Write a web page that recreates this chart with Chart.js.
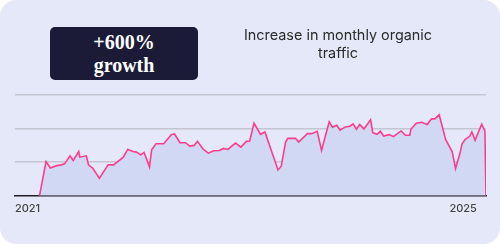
<!DOCTYPE html>
<html>
<head>
<meta charset="utf-8">
<script src="https://cdn.jsdelivr.net/npm/chart.js@4"></script>
<style>
  html, body { margin: 0; padding: 0; background: #fff; }
  .card {
    position: relative;
    width: 500px;
    height: 244px;
    background: #e4e8f8;
    border-radius: 16px;
    overflow: hidden;
  }
  .card canvas { position: absolute; left: 0; top: 0; }
  .badge {
    position: absolute;
    left: 50px;
    top: 27px;
    width: 148px;
    height: 53px;
    background: #1c1b37;
    border-radius: 5px;
    color: #fff;
    font: bold 20px "Liberation Serif", serif;
    line-height: 23px;
    text-align: center;
    display: flex;
    align-items: center;
    justify-content: center;
  }
  .title {
    position: absolute;
    left: 228px;
    top: 26px;
    width: 220px;
    text-align: center;
    font: 14.4px Inter, sans-serif;
    line-height: 18px;
    color: #2b2b2b;
  }
</style>
</head>
<body>
<div class="card">
  <canvas id="trafficChart" width="500" height="244"></canvas>
  <div class="badge"><div>+600%<br>growth</div></div>
  <div class="title">Increase in monthly organic<br>traffic</div>
</div>
<script>
// x positions in decimal years, y = organic traffic (relative units)
const years = [2021.11, 2021.17, 2021.21, 2021.26, 2021.31, 2021.34, 2021.39, 2021.42, 2021.47, 2021.48,
  2021.54, 2021.56, 2021.60, 2021.66, 2021.74, 2021.79, 2021.88, 2021.92, 2021.97, 2022.00,
  2022.04, 2022.07, 2022.12, 2022.14, 2022.18, 2022.25, 2022.32, 2022.35, 2022.40, 2022.45,
  2022.49, 2022.53, 2022.56, 2022.61, 2022.66, 2022.71, 2022.76, 2022.80, 2022.84, 2022.91,
  2022.96, 2023.01, 2023.04, 2023.08, 2023.14, 2023.18, 2023.30, 2023.33, 2023.37, 2023.39,
  2023.46, 2023.49, 2023.57, 2023.61, 2023.66, 2023.70, 2023.77, 2023.80, 2023.84, 2023.87,
  2023.92, 2023.96, 2023.99, 2024.02, 2024.05, 2024.09, 2024.15, 2024.17, 2024.21, 2024.24,
  2024.27, 2024.32, 2024.36, 2024.43, 2024.47, 2024.51, 2024.52, 2024.57, 2024.62, 2024.67,
  2024.71, 2024.74, 2024.78, 2024.84, 2024.90, 2024.93, 2024.97, 2024.99, 2025.02, 2025.06,
  2025.08, 2025.11, 2025.17, 2025.20, 2025.21];

const traffic = [0, 1.02, 0.83, 0.89, 0.92, 0.95, 1.19, 1.05, 1.32, 1.15,
  1.19, 0.92, 0.82, 0.52, 0.92, 0.92, 1.15, 1.38, 1.32, 1.30,
  1.22, 1.29, 0.86, 1.37, 1.55, 1.55, 1.82, 1.84, 1.58, 1.58,
  1.48, 1.50, 1.62, 1.40, 1.27, 1.34, 1.35, 1.41, 1.38, 1.57,
  1.45, 1.62, 1.63, 2.16, 1.83, 1.90, 0.77, 0.88, 1.60, 1.71,
  1.71, 1.60, 1.85, 1.85, 1.92, 1.35, 2.20, 2.04, 2.10, 1.95,
  2.05, 2.07, 2.14, 1.98, 2.12, 1.99, 2.26, 1.88, 1.83, 1.92,
  1.78, 1.82, 1.76, 1.93, 1.80, 1.80, 1.98, 2.16, 2.19, 2.12,
  2.29, 2.29, 2.41, 1.67, 1.31, 0.81, 1.25, 1.55, 1.68, 1.77,
  1.90, 1.65, 2.13, 1.93, 0];

const yearTicks = [2021, 2025];
const gridValues = [0, 1, 2, 3];

new Chart(document.getElementById("trafficChart"), {
  type: "line",
  data: {
    datasets: [{
      data: years.map((x, i) => ({ x, y: traffic[i] })),
      borderColor: "#fb3d8c",
      backgroundColor: "#d0d8f3",
      borderWidth: 1.6,
      pointRadius: 0,
      tension: 0,
      fill: "origin",
    }],
  },
  options: {
    responsive: false,
    animation: false,
    layout: { padding: { left: 15, right: 14, top: 95, bottom: 23 } },
    plugins: { legend: { display: false }, tooltip: { enabled: false } },
    scales: {
      x: {
        type: "linear",
        min: 2020.885,
        max: 2025.21,
        afterBuildTicks: (axis) => { axis.ticks = yearTicks.map((v) => ({ value: v })); },
        grid: { display: false, drawTicks: false },
        border: { display: true, color: "#1f1f24", width: 1.5 },
        ticks: {
          callback: (v) => String(v),
          color: "#444",
          padding: 6,
          maxRotation: 0,
          font: { family: "Inter", size: 11, weight: "500" },
        },
      },
      y: {
        min: 0,
        max: 3,
        afterBuildTicks: (axis) => { axis.ticks = gridValues.map((v) => ({ value: v })); },
        ticks: { display: false },
        border: { display: false },
        grid: {
          drawTicks: false,
          lineWidth: 1.5,
          color: (ctx) => (ctx.tick && ctx.tick.value === 0 ? "rgba(0,0,0,0)" : "#c3c6d2"),
        },
      },
    },
  },
});
</script>
</body>
</html>
